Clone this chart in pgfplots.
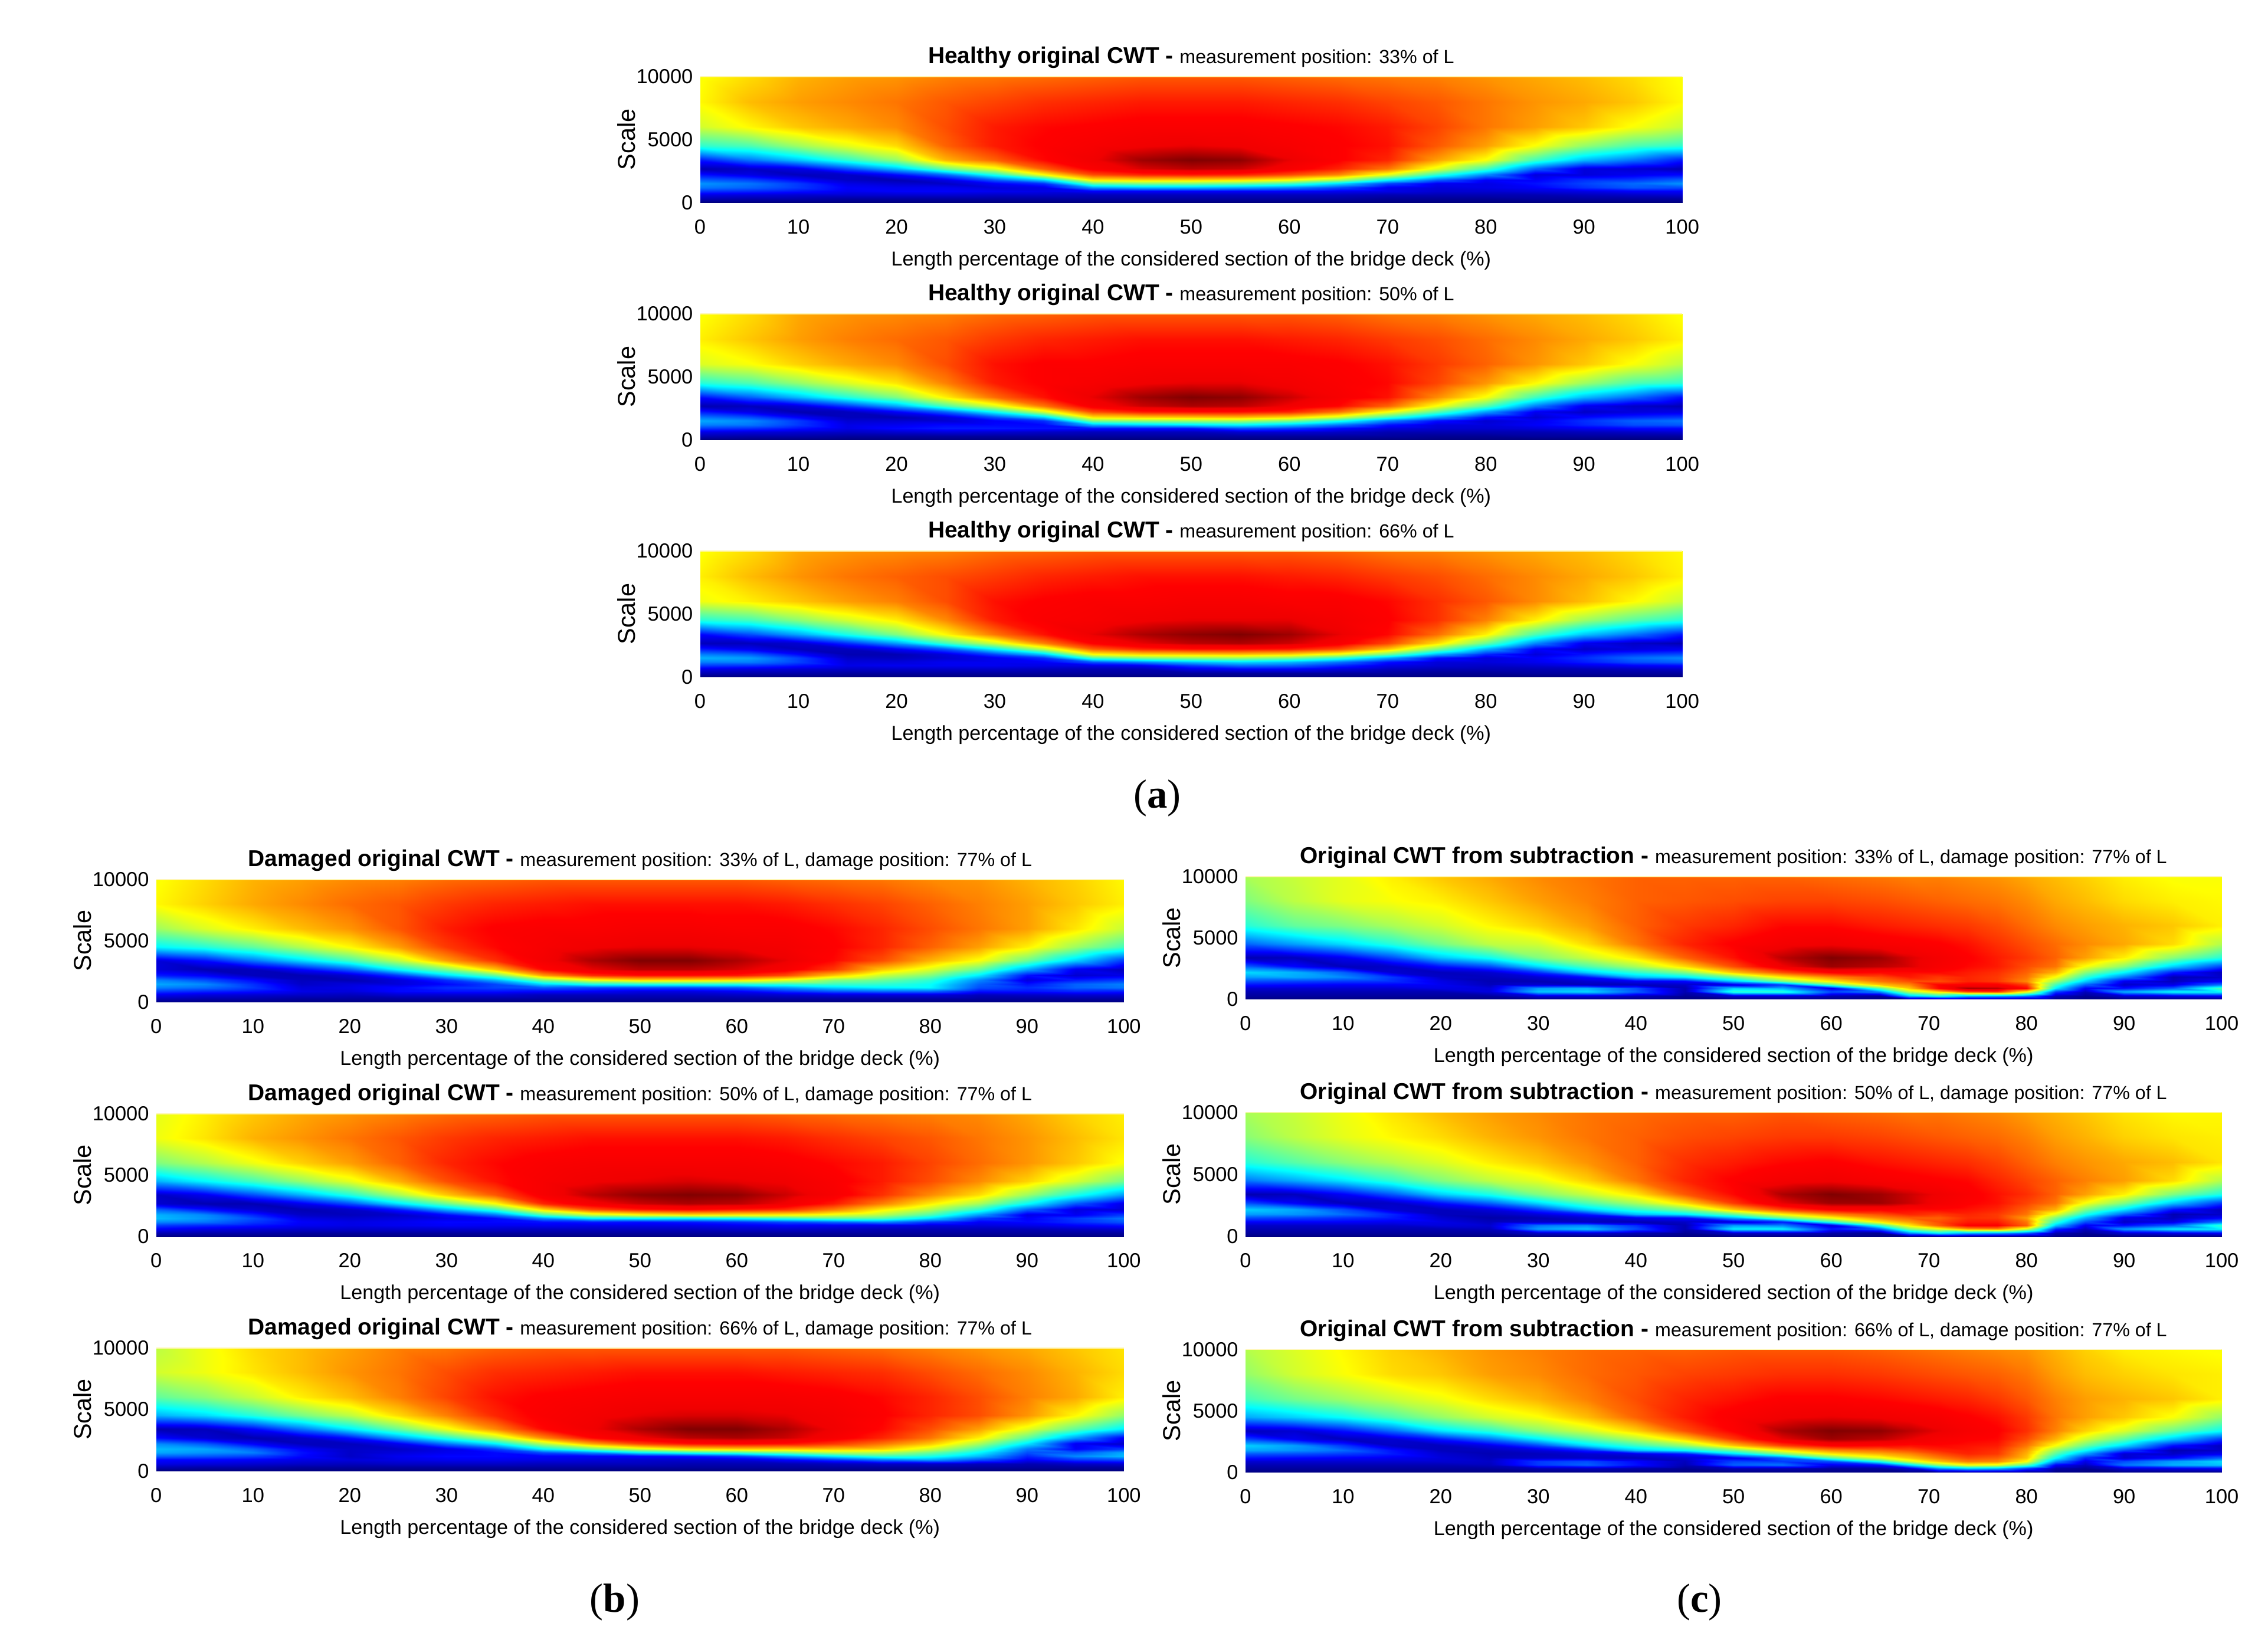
\documentclass[border=0pt]{standalone}
\usepackage{fontspec}
\usepackage{pgfplots}
\pgfplotsset{compat=1.18}
\setmainfont{Liberation Sans}
\newfontfamily\capserif{Liberation Serif}
\definecolor{palecap}{HTML}{FFF6B4}
\pgfplotsset{
  colormap={cwtjet}{rgb255(0pt)=(0,0,128); rgb255(25pt)=(0,0,255); rgb255(75pt)=(0,255,255); rgb255(125pt)=(255,255,0); rgb255(175pt)=(255,0,0); rgb255(185pt)=(240,0,0); rgb255(200pt)=(128,0,0)},
  every axis/.append style={
    scale only axis, anchor=south west,
    xmin=0, xmax=100, ymin=0, ymax=10000,
    xtick={0,10,...,100}, ytick={0,5000,10000}, scaled y ticks=false,
    axis line style={draw=none}, tick style={draw=none},
    colormap name=cwtjet, point meta min=0, point meta max=100,
    /pgf/number format/1000 sep={}, /pgf/number format/assume math mode=true,
    tick label style={font=\fontsize{10}{11}\selectfont},
    xticklabel style={yshift=-1.7mm},
    ylabel={Scale},
    xlabel={Length percentage of the considered section of the bridge deck (\%)},
  },
  every axis x label/.style={at={(axis description cs:0.5,0)}, anchor=center, yshift=-10mm, font=\fontsize{9.9}{12}\selectfont},
  every axis y label/.style={at={(axis description cs:0,0.5)}, anchor=center, rotate=90, yshift=12.75mm, font=\fontsize{12}{12}\selectfont},
  every axis title/.style={at={(axis description cs:0.5,1)}, anchor=base, yshift=2.25mm, font=\fontsize{11.3}{13}\selectfont},
  cwt/.style={surf, shader=interp, mesh/ordering=y varies, mesh/rows=14, point meta=explicit},
  small title/.style 2 args={title={{\bfseries #1 - }{\fontsize{9.35}{11}\selectfont #2}}},
}
\newcommand{\capline}{\draw[palecap, line width=0.25mm] (rel axis cs:0,1) -- (rel axis cs:1,1);}
\begin{document}
\begin{tikzpicture}[x=0.25mm,y=0.25mm]
\path (0,0) rectangle (1568,1138);
% (a) healthy
\begin{axis}[at={(121mm,249.5mm)}, width=169.75mm, height=21.75mm,
  small title={Healthy original CWT}{measurement position: 33\% of L}]
\addplot[cwt, mesh/cols=21] table[meta index=2, header=false] {
0 0 0
0 300 5
0 600 10
0 900 17
0 1200 24
0 1500 27
0 1800 22
0 2200 14
0 2700 5
0 3400 15
0 4500 42
0 6000 58
0 8000 63
0 10000 62
5 0 0
5 300 4
5 600 9
5 900 16
5 1200 22
5 1500 24
5 1800 19
5 2200 10
5 2700 7
5 3400 24
5 4500 45
5 6000 63
5 8000 69
5 10000 66
10 0 0
10 300 4
10 600 8
10 900 14
10 1200 18
10 1500 18
10 1800 13
10 2200 6
10 2700 10
10 3400 32
10 4500 53
10 6000 68
10 8000 72
10 10000 70
15 0 0
15 300 3
15 600 8
15 900 11
15 1200 12
15 1500 10
15 1800 7
15 2200 7
15 2700 20
15 3400 42
15 4500 60
15 6000 71
15 8000 74
15 10000 72
20 0 0
20 300 3
20 600 8
20 900 12
20 1200 11
20 1500 8
20 1800 5
20 2200 13
20 2700 31
20 3400 52
20 4500 66
20 6000 74
20 8000 76
20 10000 73
25 0 0
25 300 3
25 600 8
25 900 12
25 1200 11
25 1500 7
25 1800 10
25 2200 23
25 2700 48
25 3400 70
25 4500 78
25 6000 80
25 8000 79
25 10000 75
30 0 0
30 300 3
30 600 7
30 900 11
30 1200 9
30 1500 12
30 1800 21
30 2200 40
30 2700 60
30 3400 78
30 4500 85
30 6000 85
30 8000 81
30 10000 76
35 0 0
35 300 3
35 600 7
35 900 10
35 1200 10
35 1500 17
35 1800 33
35 2200 62
35 2700 78
35 3400 87
35 4500 88
35 6000 87
35 8000 83
35 10000 77
40 0 0
40 300 3
40 600 6
40 900 12
40 1200 27
40 1500 47
40 1800 64
40 2200 80
40 2700 89
40 3400 92
40 4500 90
40 6000 88
40 8000 84
40 10000 78
45 0 0
45 300 3
45 600 6
45 900 12
45 1200 30
45 1500 50
45 1800 66
45 2200 84
45 2700 94
45 3400 98
45 4500 92
45 6000 89
45 8000 85
45 10000 79
50 0 0
50 300 3
50 600 6
50 900 12
50 1200 30
50 1500 50
50 1800 66
50 2200 85
50 2700 96
50 3400 100
50 4500 93
50 6000 89
50 8000 85
50 10000 79
55 0 0
55 300 3
55 600 6
55 900 12
55 1200 28
55 1500 48
55 1800 65
55 2200 84
55 2700 95
55 3400 99
55 4500 92
55 6000 89
55 8000 85
55 10000 79
60 0 0
60 300 3
60 600 6
60 900 12
60 1200 25
60 1500 44
60 1800 62
60 2200 80
60 2700 90
60 3400 93
60 4500 90
60 6000 88
60 8000 84
60 10000 78
65 0 0
65 300 3
65 600 6
65 900 11
65 1200 19
65 1500 34
65 1800 54
65 2200 74
65 2700 84
65 3400 88
65 4500 88
65 6000 87
65 8000 83
65 10000 77
70 0 0
70 300 2
70 600 5
70 900 10
70 1200 11
70 1500 19
70 1800 37
70 2200 60
70 2700 76
70 3400 84
70 4500 86
70 6000 85
70 8000 81
70 10000 76
75 0 0
75 300 2
75 600 5
75 900 8
75 1200 9
75 1500 11
75 1800 22
75 2200 42
75 2700 60
75 3400 72
75 4500 79
75 6000 81
75 8000 79
75 10000 75
80 0 0
80 300 2
80 600 5
80 900 8
80 1200 10
80 1500 10
80 1800 12
80 2200 26
80 2700 44
80 3400 62
80 4500 72
80 6000 76
80 8000 76
80 10000 73
85 0 0
85 300 3
85 600 5
85 900 9
85 1200 12
85 1500 14
85 1800 12
85 2200 9
85 2700 22
85 3400 44
85 4500 62
85 6000 72
85 8000 73
85 10000 71
90 0 0
90 300 3
90 600 6
90 900 10
90 1200 17
90 1500 19
90 1800 17
90 2200 9
90 2700 9
90 3400 31
90 4500 52
90 6000 68
90 8000 71
90 10000 69
95 0 0
95 300 3
95 600 7
95 900 12
95 1200 21
95 1500 23
95 1800 18
95 2200 11
95 2700 8
95 3400 24
95 4500 45
95 6000 62
95 8000 68
95 10000 66
100 0 0
100 300 3
100 600 8
100 900 12
100 1200 20
100 1500 27
100 1800 22
100 2200 13
100 2700 5
100 3400 15
100 4500 42
100 6000 57
100 8000 63
100 10000 62
};
\capline
\end{axis}
\begin{axis}[at={(121mm,208.5mm)}, width=169.75mm, height=21.75mm,
  small title={Healthy original CWT}{measurement position: 50\% of L}]
\addplot[cwt, mesh/cols=21] table[meta index=2, header=false] {
0 0 0
0 300 5
0 600 10
0 900 18
0 1200 25
0 1500 29
0 1800 24
0 2200 15
0 2700 5
0 3400 14
0 4500 41
0 6000 59
0 8000 64
0 10000 62
5 0 0
5 300 4
5 600 9
5 900 17
5 1200 24
5 1500 26
5 1800 20
5 2200 10
5 2700 6
5 3400 22
5 4500 45
5 6000 62
5 8000 68
5 10000 66
10 0 0
10 300 4
10 600 8
10 900 14
10 1200 18
10 1500 18
10 1800 12
10 2200 5
10 2700 9
10 3400 31
10 4500 52
10 6000 67
10 8000 72
10 10000 71
15 0 0
15 300 3
15 600 7
15 900 10
15 1200 10
15 1500 8
15 1800 6
15 2200 6
15 2700 18
15 3400 41
15 4500 59
15 6000 71
15 8000 75
15 10000 73
20 0 0
20 300 3
20 600 8
20 900 13
20 1200 11
20 1500 8
20 1800 5
20 2200 12
20 2700 29
20 3400 50
20 4500 65
20 6000 74
20 8000 77
20 10000 74
25 0 0
25 300 3
25 600 9
25 900 15
25 1200 13
25 1500 8
25 1800 9
25 2200 22
25 2700 45
25 3400 64
25 4500 75
25 6000 80
25 8000 79
25 10000 75
30 0 0
30 300 3
30 600 8
30 900 15
30 1200 13
30 1500 12
30 1800 20
30 2200 38
30 2700 59
30 3400 77
30 4500 85
30 6000 86
30 8000 82
30 10000 77
35 0 0
35 300 3
35 600 7
35 900 14
35 1200 13
35 1500 17
35 1800 33
35 2200 58
35 2700 76
35 3400 86
35 4500 88
35 6000 88
35 8000 84
35 10000 78
40 0 0
40 300 3
40 600 6
40 900 14
40 1200 30
40 1500 50
40 1800 65
40 2200 80
40 2700 90
40 3400 93
40 4500 90
40 6000 88
40 8000 85
40 10000 79
45 0 0
45 300 3
45 600 6
45 900 14
45 1200 33
45 1500 52
45 1800 67
45 2200 85
45 2700 95
45 3400 98
45 4500 92
45 6000 89
45 8000 86
45 10000 79
50 0 0
50 300 3
50 600 6
50 900 14
50 1200 35
50 1500 53
50 1800 68
50 2200 86
50 2700 97
50 3400 100
50 4500 93
50 6000 89
50 8000 86
50 10000 79
55 0 0
55 300 3
55 600 8
55 900 20
55 1200 37
55 1500 54
55 1800 69
55 2200 86
55 2700 96
55 3400 99
55 4500 93
55 6000 89
55 8000 86
55 10000 79
60 0 0
60 300 3
60 600 8
60 900 18
60 1200 32
60 1500 50
60 1800 66
60 2200 84
60 2700 92
60 3400 95
60 4500 91
60 6000 89
60 8000 85
60 10000 79
65 0 0
65 300 3
65 600 7
65 900 13
65 1200 24
65 1500 40
65 1800 58
65 2200 76
65 2700 87
65 3400 90
65 4500 89
65 6000 88
65 8000 84
65 10000 78
70 0 0
70 300 3
70 600 5
70 900 9
70 1200 14
70 1500 25
70 1800 43
70 2200 62
70 2700 78
70 3400 86
70 4500 87
70 6000 86
70 8000 82
70 10000 76
75 0 0
75 300 2
75 600 5
75 900 8
75 1200 9
75 1500 14
75 1800 28
75 2200 46
75 2700 62
75 3400 74
75 4500 81
75 6000 82
75 8000 80
75 10000 75
80 0 0
80 300 2
80 600 5
80 900 8
80 1200 9
80 1500 8
80 1800 14
80 2200 28
80 2700 46
80 3400 62
80 4500 73
80 6000 78
80 8000 77
80 10000 73
85 0 0
85 300 3
85 600 5
85 900 9
85 1200 12
85 1500 11
85 1800 8
85 2200 11
85 2700 25
85 3400 44
85 4500 63
85 6000 73
85 8000 74
85 10000 71
90 0 0
90 300 3
90 600 6
90 900 11
90 1200 16
90 1500 17
90 1800 13
90 2200 7
90 2700 11
90 3400 31
90 4500 53
90 6000 68
90 8000 71
90 10000 69
95 0 0
95 300 3
95 600 7
95 900 13
95 1200 20
95 1500 22
95 1800 16
95 2200 9
95 2700 7
95 3400 23
95 4500 45
95 6000 62
95 8000 68
95 10000 66
100 0 0
100 300 3
100 600 8
100 900 13
100 1200 21
100 1500 24
100 1800 18
100 2200 10
100 2700 5
100 3400 14
100 4500 42
100 6000 56
100 8000 64
100 10000 62
};
\capline
\end{axis}
\begin{axis}[at={(121mm,167.5mm)}, width=169.75mm, height=21.75mm,
  small title={Healthy original CWT}{measurement position: 66\% of L}]
\addplot[cwt, mesh/cols=21] table[meta index=2, header=false] {
0 0 0
0 300 5
0 600 10
0 900 18
0 1200 25
0 1500 30
0 1800 25
0 2200 15
0 2700 6
0 3400 13
0 4500 41
0 6000 61
0 8000 64
0 10000 62
5 0 0
5 300 4
5 600 9
5 900 17
5 1200 25
5 1500 28
5 1800 22
5 2200 11
5 2700 6
5 3400 20
5 4500 44
5 6000 64
5 8000 69
5 10000 66
10 0 0
10 300 4
10 600 8
10 900 14
10 1200 19
10 1500 19
10 1800 13
10 2200 6
10 2700 8
10 3400 29
10 4500 51
10 6000 68
10 8000 73
10 10000 71
15 0 0
15 300 3
15 600 7
15 900 10
15 1200 9
15 1500 7
15 1800 5
15 2200 6
15 2700 17
15 3400 40
15 4500 58
15 6000 72
15 8000 76
15 10000 73
20 0 0
20 300 3
20 600 7
20 900 11
20 1200 9
20 1500 6
20 1800 5
20 2200 12
20 2700 28
20 3400 50
20 4500 64
20 6000 75
20 8000 78
20 10000 74
25 0 0
25 300 3
25 600 7
25 900 11
25 1200 11
25 1500 8
25 1800 9
25 2200 21
25 2700 44
25 3400 63
25 4500 74
25 6000 80
25 8000 80
25 10000 75
30 0 0
30 300 3
30 600 7
30 900 11
30 1200 11
30 1500 11
30 1800 19
30 2200 37
30 2700 58
30 3400 76
30 4500 85
30 6000 86
30 8000 82
30 10000 77
35 0 0
35 300 3
35 600 6
35 900 10
35 1200 12
35 1500 17
35 1800 32
35 2200 56
35 2700 75
35 3400 86
35 4500 89
35 6000 88
35 8000 84
35 10000 78
40 0 0
40 300 3
40 600 5
40 900 10
40 1200 21
40 1500 44
40 1800 62
40 2200 78
40 2700 88
40 3400 93
40 4500 90
40 6000 89
40 8000 85
40 10000 79
45 0 0
45 300 3
45 600 5
45 900 11
45 1200 26
45 1500 50
45 1800 66
45 2200 84
45 2700 93
45 3400 97
45 4500 92
45 6000 89
45 8000 86
45 10000 79
50 0 0
50 300 3
50 600 10
50 900 18
50 1200 31
50 1500 52
50 1800 67
50 2200 86
50 2700 96
50 3400 99
50 4500 93
50 6000 90
50 8000 86
50 10000 79
55 0 0
55 300 3
55 600 12
55 900 23
55 1200 34
55 1500 53
55 1800 68
55 2200 86
55 2700 97
55 3400 100
55 4500 93
55 6000 90
55 8000 86
55 10000 79
60 0 0
60 300 3
60 600 12
60 900 22
60 1200 31
60 1500 50
60 1800 66
60 2200 85
60 2700 95
60 3400 98
60 4500 93
60 6000 89
60 8000 85
60 10000 79
65 0 0
65 300 3
65 600 9
65 900 16
65 1200 24
65 1500 42
65 1800 60
65 2200 80
65 2700 90
65 3400 93
65 4500 91
65 6000 89
65 8000 84
65 10000 78
70 0 0
70 300 3
70 600 6
70 900 10
70 1200 14
70 1500 29
70 1800 48
70 2200 68
70 2700 81
70 3400 87
70 4500 88
70 6000 87
70 8000 82
70 10000 76
75 0 0
75 300 2
75 600 5
75 900 8
75 1200 9
75 1500 14
75 1800 30
75 2200 50
75 2700 66
75 3400 77
75 4500 83
75 6000 83
75 8000 80
75 10000 75
80 0 0
80 300 2
80 600 5
80 900 7
80 1200 9
80 1500 9
80 1800 16
80 2200 30
80 2700 48
80 3400 64
80 4500 75
80 6000 79
80 8000 77
80 10000 73
85 0 0
85 300 3
85 600 5
85 900 8
85 1200 11
85 1500 12
85 1800 9
85 2200 12
85 2700 26
85 3400 45
85 4500 64
85 6000 74
85 8000 74
85 10000 71
90 0 0
90 300 3
90 600 5
90 900 10
90 1200 15
90 1500 17
90 1800 14
90 2200 7
90 2700 11
90 3400 32
90 4500 53
90 6000 69
90 8000 71
90 10000 69
95 0 0
95 300 3
95 600 6
95 900 12
95 1200 20
95 1500 23
95 1800 18
95 2200 9
95 2700 7
95 3400 24
95 4500 46
95 6000 63
95 8000 68
95 10000 66
100 0 0
100 300 3
100 600 7
100 900 13
100 1200 22
100 1500 26
100 1800 20
100 2200 11
100 2700 5
100 3400 15
100 4500 41
100 6000 57
100 8000 64
100 10000 63
};
\capline
\end{axis}
% (b) damaged
\begin{axis}[at={(27mm,111.25mm)}, width=167.25mm, height=21.25mm,
  small title={Damaged original CWT}{measurement position: 33\% of L, damage position: 77\% of L}]
\addplot[cwt, mesh/cols=21] table[meta index=2, header=false] {
0 0 0
0 300 5
0 600 11
0 900 18
0 1200 25
0 1500 29
0 1800 25
0 2200 15
0 2700 9
0 3400 9
0 4500 37
0 6000 53
0 8000 63
0 10000 62
5 0 0
5 300 4
5 600 9
5 900 16
5 1200 23
5 1500 26
5 1800 20
5 2200 12
5 2700 5
5 3400 14
5 4500 41
5 6000 59
5 8000 67
5 10000 66
10 0 0
10 300 4
10 600 8
10 900 14
10 1200 18
10 1500 17
10 1800 13
10 2200 6
10 2700 6
10 3400 24
10 4500 47
10 6000 64
10 8000 71
10 10000 70
15 0 0
15 300 3
15 600 7
15 900 10
15 1200 9
15 1500 7
15 1800 6
15 2200 5
15 2700 13
15 3400 34
15 4500 55
15 6000 69
15 8000 74
15 10000 72
20 0 0
20 300 3
20 600 6
20 900 9
20 1200 10
20 1500 9
20 1800 5
20 2200 8
20 2700 22
20 3400 44
20 4500 63
20 6000 73
20 8000 77
20 10000 74
25 0 0
25 300 3
25 600 8
25 900 13
25 1200 13
25 1500 9
25 1800 9
25 2200 18
25 2700 38
25 3400 56
25 4500 72
25 6000 79
25 8000 79
25 10000 75
30 0 0
30 300 3
30 600 8
30 900 14
30 1200 17
30 1500 13
30 1800 17
30 2200 34
30 2700 50
30 3400 72
30 4500 82
30 6000 85
30 8000 82
30 10000 77
35 0 0
35 300 3
35 600 8
35 900 14
35 1200 19
35 1500 19
35 1800 30
35 2200 47
35 2700 68
35 3400 83
35 4500 87
35 6000 88
35 8000 84
35 10000 78
40 0 0
40 300 3
40 600 6
40 900 13
40 1200 21
40 1500 34
40 1800 50
40 2200 72
40 2700 87
40 3400 91
40 4500 90
40 6000 89
40 8000 85
40 10000 79
45 0 0
45 300 3
45 600 6
45 900 12
45 1200 19
45 1500 40
45 1800 61
45 2200 83
45 2700 93
45 3400 97
45 4500 92
45 6000 89
45 8000 86
45 10000 79
50 0 0
50 300 3
50 600 6
50 900 10
50 1200 19
50 1500 41
50 1800 66
50 2200 86
50 2700 96
50 3400 100
50 4500 93
50 6000 90
50 8000 86
50 10000 79
55 0 0
55 300 3
55 600 6
55 900 10
55 1200 19
55 1500 41
55 1800 66
55 2200 86
55 2700 96
55 3400 100
55 4500 93
55 6000 90
55 8000 86
55 10000 79
60 0 0
60 300 3
60 600 7
60 900 12
60 1200 21
60 1500 41
60 1800 65
60 2200 85
60 2700 94
60 3400 97
60 4500 92
60 6000 89
60 8000 86
60 10000 79
65 0 0
65 300 3
65 600 8
65 900 17
65 1200 27
65 1500 42
65 1800 60
65 2200 80
65 2700 90
65 3400 93
65 4500 91
65 6000 89
65 8000 85
65 10000 78
70 0 0
70 300 3
70 600 9
70 900 21
70 1200 33
70 1500 43
70 1800 51
70 2200 68
70 2700 82
70 3400 87
70 4500 88
70 6000 87
70 8000 83
70 10000 77
75 0 0
75 300 3
75 600 9
75 900 23
75 1200 36
75 1500 42
75 1800 48
75 2200 57
75 2700 68
75 3400 80
75 4500 84
75 6000 84
75 8000 81
75 10000 76
80 0 0
80 300 3
80 600 9
80 900 23
80 1200 37
80 1500 38
80 1800 42
80 2200 50
80 2700 59
80 3400 70
80 4500 78
80 6000 80
80 8000 78
80 10000 74
85 0 0
85 300 3
85 600 6
85 900 14
85 1200 20
85 1500 22
85 1800 26
85 2200 36
85 2700 48
85 3400 62
85 4500 72
85 6000 76
85 8000 75
85 10000 73
90 0 0
90 300 3
90 600 7
90 900 14
90 1200 17
90 1500 14
90 1800 9
90 2200 14
90 2700 29
90 3400 48
90 4500 64
90 6000 72
90 8000 72
90 10000 70
95 0 0
95 300 3
95 600 8
95 900 16
95 1200 22
95 1500 22
95 1800 15
95 2200 8
95 2700 11
95 3400 33
95 4500 53
95 6000 65
95 8000 68
95 10000 67
100 0 0
100 300 3
100 600 8
100 900 15
100 1200 24
100 1500 25
100 1800 18
100 2200 10
100 2700 6
100 3400 18
100 4500 44
100 6000 57
100 8000 64
100 10000 63
};
\capline
\end{axis}
\begin{axis}[at={(27mm,70.75mm)}, width=167.25mm, height=21.25mm,
  small title={Damaged original CWT}{measurement position: 50\% of L, damage position: 77\% of L}]
\addplot[cwt, mesh/cols=21] table[meta index=2, header=false] {
0 0 0
0 300 5
0 600 11
0 900 18
0 1200 26
0 1500 31
0 1800 30
0 2200 22
0 2700 8
0 3400 7
0 4500 30
0 6000 50
0 8000 61
0 10000 60
5 0 0
5 300 4
5 600 9
5 900 16
5 1200 24
5 1500 27
5 1800 26
5 2200 14
5 2700 5
5 3400 11
5 4500 37
5 6000 55
5 8000 65
5 10000 64
10 0 0
10 300 4
10 600 8
10 900 14
10 1200 18
10 1500 20
10 1800 16
10 2200 8
10 2700 5
10 3400 20
10 4500 44
10 6000 61
10 8000 70
10 10000 68
15 0 0
15 300 3
15 600 7
15 900 11
15 1200 12
15 1500 10
15 1800 7
15 2200 5
15 2700 11
15 3400 30
15 4500 52
15 6000 67
15 8000 73
15 10000 71
20 0 0
20 300 3
20 600 7
20 900 10
20 1200 10
20 1500 8
20 1800 6
20 2200 7
20 2700 20
20 3400 41
20 4500 60
20 6000 72
20 8000 76
20 10000 73
25 0 0
25 300 3
25 600 7
25 900 11
25 1200 11
25 1500 9
25 1800 7
25 2200 15
25 2700 35
25 3400 54
25 4500 70
25 6000 78
25 8000 79
25 10000 75
30 0 0
30 300 3
30 600 7
30 900 12
30 1200 13
30 1500 10
30 1800 13
30 2200 30
30 2700 48
30 3400 68
30 4500 80
30 6000 84
30 8000 82
30 10000 77
35 0 0
35 300 3
35 600 7
35 900 11
35 1200 13
35 1500 13
35 1800 24
35 2200 43
35 2700 62
35 3400 79
35 4500 86
35 6000 87
35 8000 84
35 10000 78
40 0 0
40 300 3
40 600 6
40 900 11
40 1200 14
40 1500 26
40 1800 45
40 2200 66
40 2700 84
40 3400 90
40 4500 90
40 6000 89
40 8000 85
40 10000 79
45 0 0
45 300 3
45 600 6
45 900 10
45 1200 15
45 1500 36
45 1800 57
45 2200 80
45 2700 91
45 3400 96
45 4500 92
45 6000 90
45 8000 86
45 10000 79
50 0 0
50 300 3
50 600 6
50 900 10
50 1200 14
50 1500 37
50 1800 62
50 2200 85
50 2700 95
50 3400 99
50 4500 93
50 6000 90
50 8000 86
50 10000 79
55 0 0
55 300 3
55 600 6
55 900 10
55 1200 15
55 1500 36
55 1800 65
55 2200 87
55 2700 97
55 3400 100
55 4500 94
55 6000 90
55 8000 86
55 10000 79
60 0 0
60 300 3
60 600 7
60 900 11
60 1200 17
60 1500 38
60 1800 64
60 2200 85
60 2700 96
60 3400 99
60 4500 93
60 6000 90
60 8000 86
60 10000 79
65 0 0
65 300 3
65 600 7
65 900 12
65 1200 20
65 1500 42
65 1800 63
65 2200 83
65 2700 92
65 3400 95
65 4500 92
65 6000 89
65 8000 85
65 10000 78
70 0 0
70 300 3
70 600 6
70 900 11
70 1200 23
70 1500 46
70 1800 60
70 2200 75
70 2700 85
70 3400 90
70 4500 89
70 6000 87
70 8000 83
70 10000 77
75 0 0
75 300 3
75 600 5
75 900 10
75 1200 26
75 1500 45
75 1800 55
75 2200 64
75 2700 75
75 3400 83
75 4500 85
75 6000 85
75 8000 81
75 10000 76
80 0 0
80 300 3
80 600 5
80 900 9
80 1200 18
80 1500 34
80 1800 45
80 2200 55
80 2700 64
80 3400 74
80 4500 80
80 6000 81
80 8000 79
80 10000 75
85 0 0
85 300 3
85 600 5
85 900 9
85 1200 12
85 1500 18
85 1800 28
85 2200 42
85 2700 54
85 3400 66
85 4500 74
85 6000 77
85 8000 76
85 10000 74
90 0 0
90 300 3
90 600 5
90 900 10
90 1200 13
90 1500 12
90 1800 10
90 2200 22
90 2700 38
90 3400 53
90 4500 67
90 6000 73
90 8000 73
90 10000 71
95 0 0
95 300 3
95 600 6
95 900 12
95 1200 17
95 1500 18
95 1800 11
95 2200 9
95 2700 21
95 3400 40
95 4500 58
95 6000 68
95 8000 69
95 10000 67
100 0 0
100 300 3
100 600 7
100 900 14
100 1200 21
100 1500 24
100 1800 18
100 2200 8
100 2700 10
100 3400 28
100 4500 49
100 6000 62
100 8000 65
100 10000 64
};
\capline
\end{axis}
\begin{axis}[at={(27mm,30.25mm)}, width=167.25mm, height=21.25mm,
  small title={Damaged original CWT}{measurement position: 66\% of L, damage position: 77\% of L}]
\addplot[cwt, mesh/cols=21] table[meta index=2, header=false] {
0 0 0
0 300 5
0 600 10
0 900 13
0 1200 22
0 1500 29
0 1800 31
0 2200 26
0 2700 13
0 3400 5
0 4500 30
0 6000 47
0 8000 58
0 10000 56
5 0 0
5 300 4
5 600 9
5 900 13
5 1200 21
5 1500 27
5 1800 29
5 2200 21
5 2700 8
5 3400 6
5 4500 34
5 6000 51
5 8000 61
5 10000 61
10 0 0
10 300 4
10 600 8
10 900 12
10 1200 19
10 1500 25
10 1800 22
10 2200 12
10 2700 5
10 3400 13
10 4500 41
10 6000 57
10 8000 65
10 10000 66
15 0 0
15 300 3
15 600 7
15 900 10
15 1200 13
15 1500 14
15 1800 12
15 2200 6
15 2700 7
15 3400 24
15 4500 49
15 6000 64
15 8000 69
15 10000 69
20 0 0
20 300 3
20 600 6
20 900 9
20 1200 7
20 1500 7
20 1800 7
20 2200 6
20 2700 14
20 3400 36
20 4500 56
20 6000 69
20 8000 73
20 10000 72
25 0 0
25 300 3
25 600 7
25 900 10
25 1200 11
25 1500 9
25 1800 7
25 2200 11
25 2700 28
25 3400 48
25 4500 66
25 6000 75
25 8000 76
25 10000 75
30 0 0
30 300 3
30 600 7
30 900 11
30 1200 13
30 1500 11
30 1800 10
30 2200 24
30 2700 41
30 3400 61
30 4500 75
30 6000 81
30 8000 80
30 10000 76
35 0 0
35 300 3
35 600 7
35 900 11
35 1200 13
35 1500 13
35 1800 18
35 2200 36
35 2700 55
35 3400 74
35 4500 84
35 6000 86
35 8000 83
35 10000 78
40 0 0
40 300 3
40 600 6
40 900 10
40 1200 12
40 1500 20
40 1800 37
40 2200 55
40 2700 74
40 3400 87
40 4500 89
40 6000 88
40 8000 84
40 10000 79
45 0 0
45 300 3
45 600 6
45 900 9
45 1200 12
45 1500 26
45 1800 48
45 2200 71
45 2700 87
45 3400 92
45 4500 91
45 6000 89
45 8000 85
45 10000 79
50 0 0
50 300 3
50 600 6
50 900 8
50 1200 13
50 1500 36
50 1800 58
50 2200 81
50 2700 92
50 3400 97
50 4500 93
50 6000 90
50 8000 86
50 10000 79
55 0 0
55 300 3
55 600 5
55 900 8
55 1200 15
55 1500 41
55 1800 65
55 2200 86
55 2700 96
55 3400 100
55 4500 94
55 6000 90
55 8000 86
55 10000 79
60 0 0
60 300 3
60 600 5
60 900 9
60 1200 19
60 1500 44
60 1800 67
60 2200 87
60 2700 97
60 3400 100
60 4500 94
60 6000 90
60 8000 86
60 10000 79
65 0 0
65 300 3
65 600 5
65 900 13
65 1200 28
65 1500 49
65 1800 67
65 2200 86
65 2700 95
65 3400 97
65 4500 93
65 6000 90
65 8000 85
65 10000 79
70 0 0
70 300 3
70 600 6
70 900 18
70 1200 36
70 1500 55
70 1800 68
70 2200 82
70 2700 90
70 3400 92
70 4500 91
70 6000 89
70 8000 84
70 10000 78
75 0 0
75 300 3
75 600 7
75 900 25
75 1200 43
75 1500 55
75 1800 67
75 2200 76
75 2700 84
75 3400 87
75 4500 88
75 6000 87
75 8000 83
75 10000 77
80 0 0
80 300 3
80 600 7
80 900 29
80 1200 40
80 1500 48
80 1800 58
80 2200 68
80 2700 76
80 3400 80
80 4500 84
80 6000 84
80 8000 80
80 10000 75
85 0 0
85 300 3
85 600 6
85 900 21
85 1200 31
85 1500 37
85 1800 44
85 2200 54
85 2700 64
85 3400 72
85 4500 80
85 6000 80
85 8000 77
85 10000 73
90 0 0
90 300 3
90 600 5
90 900 12
90 1200 16
90 1500 20
90 1800 24
90 2200 35
90 2700 47
90 3400 60
90 4500 73
90 6000 75
90 8000 74
90 10000 71
95 0 0
95 300 3
95 600 7
95 900 18
95 1200 26
95 1500 21
95 1800 12
95 2200 11
95 2700 28
95 3400 47
95 4500 63
95 6000 71
95 8000 70
95 10000 68
100 0 0
100 300 3
100 600 8
100 900 20
100 1200 31
100 1500 29
100 1800 18
100 2200 7
100 2700 12
100 3400 36
100 4500 52
100 6000 64
100 8000 66
100 10000 65
};
\capline
\end{axis}
% (c) subtraction
\begin{axis}[at={(215.25mm,111.75mm)}, width=168.75mm, height=21.25mm,
  small title={Original CWT from subtraction}{measurement position: 33\% of L, damage position: 77\% of L}]
\addplot[cwt, mesh/cols=24] table[meta index=2, header=false] {
0 0 0
0 300 3
0 600 5
0 900 8
0 1200 14
0 1500 20
0 1800 28
0 2200 34
0 2700 22
0 3400 5
0 4500 22
0 6000 41
0 8000 50
0 10000 54
5 0 0
5 300 3
5 600 5
5 900 8
5 1200 13
5 1500 19
5 1800 29
5 2200 30
5 2700 13
5 3400 6
5 4500 28
5 6000 47
5 8000 56
5 10000 57
10 0 0
10 300 3
10 600 5
10 900 8
10 1200 12
10 1500 18
10 1800 26
10 2200 22
10 2700 6
10 3400 11
10 4500 34
10 6000 50
10 8000 60
10 10000 60
15 0 0
15 300 3
15 600 5
15 900 8
15 1200 12
15 1500 17
15 1800 18
15 2200 8
15 2700 7
15 3400 20
15 4500 41
15 6000 54
15 8000 62
15 10000 64
20 0 0
20 300 3
20 600 5
20 900 10
20 1200 11
20 1500 10
20 1800 7
20 2200 6
20 2700 14
20 3400 32
20 4500 49
20 6000 58
20 8000 64
20 10000 68
25 0 0
25 300 3
25 600 9
25 900 9
25 1200 6
25 1500 5
25 1800 6
25 2200 8
25 2700 20
25 3400 39
25 4500 56
25 6000 63
25 8000 68
25 10000 71
30 0 0
30 300 9
30 600 32
30 900 28
30 1200 8
30 1500 5
30 1800 8
30 2200 17
30 2700 34
30 3400 50
30 4500 58
30 6000 67
30 8000 72
30 10000 74
35 0 0
35 300 9
35 600 34
35 900 30
35 1200 6
35 1500 8
35 1800 14
35 2200 33
35 2700 45
35 3400 57
35 4500 66
35 6000 72
35 8000 75
35 10000 76
40 0 0
40 300 6
40 600 22
40 900 20
40 1200 6
40 1500 11
40 1800 31
40 2200 42
40 2700 54
40 3400 65
40 4500 76
40 6000 78
40 8000 78
40 10000 78
45 0 0
45 300 2
45 600 5
45 900 5
45 1200 7
45 1500 13
45 1800 36
45 2200 50
45 2700 66
45 3400 78
45 4500 84
45 6000 82
45 8000 79
45 10000 78
50 0 0
50 300 8
50 600 42
50 900 33
50 1200 9
50 1500 32
50 1800 48
50 2200 68
50 2700 80
50 3400 86
50 4500 88
50 6000 84
50 8000 80
50 10000 78
55 0 0
55 300 8
55 600 42
55 900 30
55 1200 18
55 1500 50
55 1800 64
55 2200 80
55 2700 92
55 3400 96
55 4500 91
55 6000 87
55 8000 81
55 10000 78
60 0 0
60 300 5
60 600 20
60 900 11
60 1200 46
60 1500 64
60 1800 74
60 2200 88
60 2700 98
60 3400 100
60 4500 92
60 6000 87
60 8000 81
60 10000 77
65 0 0
65 300 3
65 600 26
65 900 46
65 1200 68
65 1500 76
65 1800 80
65 2200 87
65 2700 96
65 3400 98
65 4500 90
65 6000 85
65 8000 80
65 10000 76
68 0 0
68 300 32
68 600 55
68 900 68
68 1200 74
68 1500 80
68 1800 85
68 2200 87
68 2700 94
68 3400 94
68 4500 89
68 6000 84
68 8000 79
68 10000 75
71 0 0
71 300 40
71 600 66
71 900 87
71 1200 88
71 1500 80
71 1800 82
71 2200 87
71 2700 90
71 3400 91
71 4500 88
71 6000 83
71 8000 78
71 10000 75
74 0 0
74 300 32
74 600 80
74 900 97
74 1200 89
74 1500 84
74 1800 84
74 2200 85
74 2700 87
74 3400 88
74 4500 86
74 6000 82
74 8000 77
74 10000 74
77 0 0
77 300 30
77 600 82
77 900 96
77 1200 89
77 1500 82
77 1800 82
77 2200 83
77 2700 85
77 3400 85
77 4500 83
77 6000 80
77 8000 76
77 10000 73
80 0 0
80 300 25
80 600 62
80 900 87
80 1200 82
80 1500 74
80 1800 76
80 2200 78
80 2700 80
80 3400 82
80 4500 80
80 6000 77
80 8000 74
80 10000 71
83 0 0
83 300 6
83 600 18
83 900 36
83 1200 44
83 1500 53
83 1800 62
83 2200 70
83 2700 76
83 3400 78
83 4500 77
83 6000 74
83 8000 71
83 10000 69
86 0 0
86 300 2
86 600 6
86 900 12
86 1200 22
86 1500 33
86 1800 42
86 2200 51
86 2700 62
86 3400 72
86 4500 74
86 6000 72
86 8000 69
86 10000 67
90 0 0
90 300 8
90 600 30
90 900 14
90 1200 7
90 1500 11
90 1800 25
90 2200 37
90 2700 51
90 3400 64
90 4500 71
90 6000 70
90 8000 66
90 10000 64
95 0 0
95 300 10
95 600 38
95 900 22
95 1200 10
95 1500 6
95 1800 5
95 2200 15
95 2700 33
95 3400 51
95 4500 66
95 6000 68
95 8000 64
95 10000 62
100 0 0
100 300 12
100 600 38
100 900 45
100 1200 24
100 1500 12
100 1800 7
100 2200 6
100 2700 19
100 3400 41
100 4500 55
100 6000 64
100 8000 63
100 10000 62
};
\capline
\end{axis}
\begin{axis}[at={(215.25mm,70.75mm)}, width=168.75mm, height=21.5mm,
  small title={Original CWT from subtraction}{measurement position: 50\% of L, damage position: 77\% of L}]
\addplot[cwt, mesh/cols=24] table[meta index=2, header=false] {
0 0 0
0 300 3
0 600 5
0 900 7
0 1200 12
0 1500 20
0 1800 28
0 2200 33
0 2700 20
0 3400 5
0 4500 24
0 6000 41
0 8000 51
0 10000 54
5 0 0
5 300 3
5 600 5
5 900 7
5 1200 12
5 1500 19
5 1800 27
5 2200 29
5 2700 12
5 3400 6
5 4500 29
5 6000 46
5 8000 56
5 10000 57
10 0 0
10 300 3
10 600 5
10 900 7
10 1200 12
10 1500 17
10 1800 23
10 2200 20
10 2700 6
10 3400 12
10 4500 35
10 6000 51
10 8000 60
10 10000 61
15 0 0
15 300 3
15 600 5
15 900 7
15 1200 11
15 1500 15
15 1800 16
15 2200 8
15 2700 7
15 3400 21
15 4500 42
15 6000 55
15 8000 63
15 10000 65
20 0 0
20 300 3
20 600 5
20 900 9
20 1200 10
20 1500 8
20 1800 6
20 2200 6
20 2700 14
20 3400 33
20 4500 50
20 6000 59
20 8000 66
20 10000 69
25 0 0
25 300 3
25 600 6
25 900 8
25 1200 6
25 1500 4
25 1800 6
25 2200 9
25 2700 22
25 3400 40
25 4500 56
25 6000 64
25 8000 70
25 10000 72
30 0 0
30 300 7
30 600 28
30 900 24
30 1200 7
30 1500 5
30 1800 9
30 2200 18
30 2700 34
30 3400 50
30 4500 60
30 6000 68
30 8000 73
30 10000 74
35 0 0
35 300 8
35 600 32
35 900 26
35 1200 6
35 1500 8
35 1800 15
35 2200 33
35 2700 45
35 3400 57
35 4500 67
35 6000 73
35 8000 76
35 10000 76
40 0 0
40 300 5
40 600 20
40 900 17
40 1200 5
40 1500 11
40 1800 31
40 2200 42
40 2700 54
40 3400 65
40 4500 76
40 6000 78
40 8000 78
40 10000 77
45 0 0
45 300 2
45 600 5
45 900 5
45 1200 7
45 1500 14
45 1800 36
45 2200 50
45 2700 66
45 3400 79
45 4500 84
45 6000 83
45 8000 80
45 10000 78
50 0 0
50 300 7
50 600 36
50 900 28
50 1200 9
50 1500 30
50 1800 47
50 2200 68
50 2700 82
50 3400 87
50 4500 88
50 6000 85
50 8000 81
50 10000 78
55 0 0
55 300 7
55 600 37
55 900 26
55 1200 15
55 1500 48
55 1800 63
55 2200 81
55 2700 93
55 3400 97
55 4500 91
55 6000 87
55 8000 82
55 10000 79
60 0 0
60 300 4
60 600 15
60 900 9
60 1200 42
60 1500 62
60 1800 74
60 2200 88
60 2700 98
60 3400 100
60 4500 92
60 6000 88
60 8000 82
60 10000 78
65 0 0
65 300 2
65 600 22
65 900 42
65 1200 64
65 1500 74
65 1800 80
65 2200 88
65 2700 98
65 3400 98
65 4500 90
65 6000 86
65 8000 81
65 10000 77
68 0 0
68 300 26
68 600 50
68 900 64
68 1200 72
68 1500 78
68 1800 84
68 2200 87
68 2700 95
68 3400 95
68 4500 89
68 6000 85
68 8000 80
68 10000 76
71 0 0
71 300 36
71 600 60
71 900 78
71 1200 80
71 1500 78
71 1800 82
71 2200 87
71 2700 91
71 3400 92
71 4500 88
71 6000 84
71 8000 79
71 10000 76
74 0 0
74 300 30
74 600 72
74 900 88
74 1200 85
74 1500 83
74 1800 84
74 2200 86
74 2700 88
74 3400 89
74 4500 87
74 6000 83
74 8000 78
74 10000 75
77 0 0
77 300 28
77 600 74
77 900 88
77 1200 85
77 1500 82
77 1800 82
77 2200 84
77 2700 86
77 3400 86
77 4500 84
77 6000 81
77 8000 77
77 10000 74
80 0 0
80 300 22
80 600 58
80 900 78
80 1200 76
80 1500 72
80 1800 76
80 2200 78
80 2700 81
80 3400 83
80 4500 81
80 6000 78
80 8000 75
80 10000 72
83 0 0
83 300 5
83 600 16
83 900 32
83 1200 42
83 1500 50
83 1800 60
83 2200 70
83 2700 76
83 3400 78
83 4500 78
83 6000 75
83 8000 72
83 10000 70
86 0 0
86 300 2
86 600 6
86 900 11
86 1200 20
86 1500 30
86 1800 40
86 2200 50
86 2700 62
86 3400 72
86 4500 75
86 6000 73
86 8000 70
86 10000 68
90 0 0
90 300 8
90 600 28
90 900 14
90 1200 7
90 1500 10
90 1800 22
90 2200 35
90 2700 50
90 3400 64
90 4500 72
90 6000 71
90 8000 67
90 10000 65
95 0 0
95 300 10
95 600 36
95 900 22
95 1200 10
95 1500 6
95 1800 5
95 2200 14
95 2700 32
95 3400 50
95 4500 66
95 6000 69
95 8000 65
95 10000 63
100 0 0
100 300 12
100 600 37
100 900 43
100 1200 24
100 1500 12
100 1800 7
100 2200 6
100 2700 18
100 3400 40
100 4500 55
100 6000 65
100 8000 64
100 10000 63
};
\capline
\end{axis}
\begin{axis}[at={(215.25mm,30mm)}, width=168.75mm, height=21.25mm,
  small title={Original CWT from subtraction}{measurement position: 66\% of L, damage position: 77\% of L}]
\addplot[cwt, mesh/cols=24] table[meta index=2, header=false] {
0 0 0
0 300 3
0 600 5
0 900 8
0 1200 14
0 1500 21
0 1800 29
0 2200 33
0 2700 19
0 3400 6
0 4500 29
0 6000 44
0 8000 52
0 10000 55
5 0 0
5 300 3
5 600 5
5 900 8
5 1200 13
5 1500 20
5 1800 27
5 2200 28
5 2700 11
5 3400 8
5 4500 33
5 6000 49
5 8000 58
5 10000 59
10 0 0
10 300 3
10 600 5
10 900 8
10 1200 12
10 1500 18
10 1800 23
10 2200 18
10 2700 6
10 3400 14
10 4500 38
10 6000 53
10 8000 62
10 10000 63
15 0 0
15 300 3
15 600 5
15 900 8
15 1200 11
15 1500 15
15 1800 14
15 2200 7
15 2700 8
15 3400 23
15 4500 45
15 6000 57
15 8000 66
15 10000 67
20 0 0
20 300 3
20 600 5
20 900 8
20 1200 9
20 1500 8
20 1800 6
20 2200 6
20 2700 15
20 3400 35
20 4500 52
20 6000 61
20 8000 68
20 10000 70
25 0 0
25 300 3
25 600 6
25 900 7
25 1200 6
25 1500 5
25 1800 6
25 2200 10
25 2700 24
25 3400 42
25 4500 58
25 6000 66
25 8000 72
25 10000 73
30 0 0
30 300 5
30 600 18
30 900 18
30 1200 7
30 1500 6
30 1800 9
30 2200 19
30 2700 36
30 3400 51
30 4500 62
30 6000 70
30 8000 74
30 10000 75
35 0 0
35 300 6
35 600 22
35 900 20
35 1200 7
35 1500 8
35 1800 16
35 2200 34
35 2700 46
35 3400 58
35 4500 69
35 6000 75
35 8000 77
35 10000 77
40 0 0
40 300 4
40 600 14
40 900 13
40 1200 6
40 1500 10
40 1800 32
40 2200 43
40 2700 55
40 3400 67
40 4500 78
40 6000 80
40 8000 79
40 10000 78
45 0 0
45 300 2
45 600 5
45 900 6
45 1200 8
45 1500 15
45 1800 38
45 2200 52
45 2700 67
45 3400 80
45 4500 85
45 6000 84
45 8000 81
45 10000 78
50 0 0
50 300 5
50 600 22
50 900 19
50 1200 11
50 1500 34
50 1800 48
50 2200 68
50 2700 82
50 3400 88
50 4500 89
50 6000 86
50 8000 82
50 10000 79
55 0 0
55 300 5
55 600 24
55 900 18
55 1200 22
55 1500 50
55 1800 64
55 2200 81
55 2700 93
55 3400 97
55 4500 92
55 6000 88
55 8000 83
55 10000 79
60 0 0
60 300 3
60 600 11
60 900 20
60 1200 46
60 1500 64
60 1800 74
60 2200 88
60 2700 98
60 3400 100
60 4500 93
60 6000 88
60 8000 83
60 10000 79
65 0 0
65 300 3
65 600 14
65 900 40
65 1200 60
65 1500 70
65 1800 77
65 2200 87
65 2700 96
65 3400 99
65 4500 92
65 6000 87
65 8000 82
65 10000 78
68 0 0
68 300 8
68 600 34
68 900 58
68 1200 68
68 1500 74
68 1800 80
68 2200 86
68 2700 93
68 3400 96
68 4500 91
68 6000 86
68 8000 81
68 10000 77
71 0 0
71 300 26
71 600 52
71 900 68
71 1200 75
71 1500 80
71 1800 84
71 2200 87
71 2700 90
71 3400 93
71 4500 90
71 6000 85
71 8000 80
71 10000 76
74 0 0
74 300 32
74 600 62
74 900 75
74 1200 80
74 1500 84
74 1800 85
74 2200 86
74 2700 88
74 3400 90
74 4500 88
74 6000 84
74 8000 79
74 10000 75
77 0 0
77 300 30
77 600 60
77 900 74
77 1200 78
77 1500 82
77 1800 83
77 2200 85
77 2700 87
77 3400 88
77 4500 86
77 6000 82
77 8000 78
77 10000 74
80 0 0
80 300 18
80 600 46
80 900 62
80 1200 68
80 1500 70
80 1800 72
80 2200 76
80 2700 80
80 3400 83
80 4500 82
80 6000 79
80 8000 76
80 10000 73
83 0 0
83 300 4
83 600 12
83 900 26
83 1200 38
83 1500 46
83 1800 52
83 2200 62
83 2700 70
83 3400 75
83 4500 76
83 6000 75
83 8000 72
83 10000 70
86 0 0
86 300 2
86 600 6
86 900 10
86 1200 16
86 1500 28
86 1800 38
86 2200 48
86 2700 58
86 3400 67
86 4500 72
86 6000 72
86 8000 69
86 10000 67
90 0 0
90 300 8
90 600 24
90 900 20
90 1200 8
90 1500 8
90 1800 20
90 2200 34
90 2700 47
90 3400 59
90 4500 68
90 6000 70
90 8000 67
90 10000 64
95 0 0
95 300 10
95 600 30
95 900 28
95 1200 13
95 1500 7
95 1800 5
95 2200 14
95 2700 32
95 3400 48
95 4500 62
95 6000 68
95 8000 65
95 10000 63
100 0 0
100 300 12
100 600 32
100 900 34
100 1200 22
100 1500 11
100 1800 7
100 2200 6
100 2700 18
100 3400 38
100 4500 52
100 6000 64
100 8000 64
100 10000 62
};
\capline
\end{axis}
\node[font=\fontsize{20}{20}\selectfont\capserif] at (800,586) {(\textbf{a})};
\node[font=\fontsize{20}{20}\selectfont\capserif] at (425,30) {(\textbf{b})};
\node[font=\fontsize{20}{20}\selectfont\capserif] at (1175,30) {(\textbf{c})};
\end{tikzpicture}
\end{document}
